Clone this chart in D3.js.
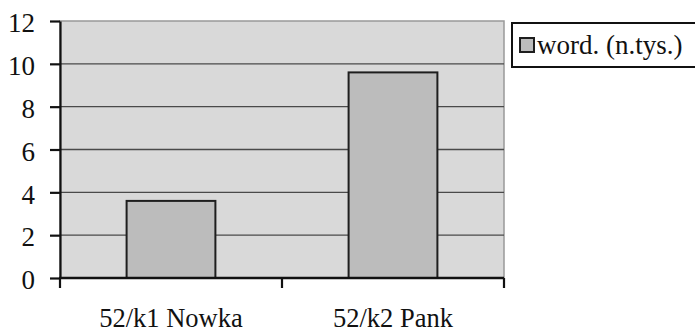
<!DOCTYPE html>
<html>
<head>
<meta charset="utf-8">
<script src="https://cdn.jsdelivr.net/npm/d3@7/dist/d3.min.js"></script>
</head>
<body style="margin:0">
<svg id="chart" width="695" height="332" style="display:block"></svg>
<script>
// Categories, series values and tick labels
const categories = ["52/k1 Nowka", "52/k2 Pank"];
const seriesName = "word. (n.tys.)";
const values = [3.6, 9.6];
const yTicks = [0, 2, 4, 6, 8, 10, 12];

const FONT = "'Times New Roman'";

const svg = d3.select("#chart");
const plot = { left: 60, right: 504, top: 21, bottom: 278 };

const x = d3.scaleBand()
  .domain(categories)
  .range([plot.left, plot.right])
  .paddingInner(0.6)
  .paddingOuter(0.3);

const y = d3.scaleLinear()
  .domain([0, 12])
  .range([plot.bottom, plot.top]);

// plot area background
svg.append("rect")
  .attr("x", plot.left).attr("y", plot.top)
  .attr("width", plot.right - plot.left).attr("height", plot.bottom - plot.top)
  .attr("fill", "#d9d9d9")
  .attr("stroke", "#999").attr("stroke-width", 1.5);

// horizontal gridlines
svg.append("g")
  .selectAll("line")
  .data(yTicks.filter(d => d > 0 && d < 12))
  .join("line")
  .attr("x1", plot.left).attr("x2", plot.right)
  .attr("y1", d => y(d)).attr("y2", d => y(d))
  .attr("stroke", "#4a4a4a").attr("stroke-width", 1.3);

// bars
svg.append("g")
  .selectAll("rect")
  .data(values)
  .join("rect")
  .attr("x", (d, i) => x(categories[i]))
  .attr("y", d => y(d))
  .attr("width", x.bandwidth())
  .attr("height", d => y(0) - y(d))
  .attr("fill", "#bcbcbc")
  .attr("stroke", "#1e1e1e").attr("stroke-width", 2);

// y axis
const yAxis = svg.append("g")
  .attr("transform", `translate(${plot.left},0)`)
  .call(d3.axisLeft(y).tickValues(yTicks).tickSize(10).tickPadding(15).tickSizeOuter(0));
yAxis.attr("font-family", null);
yAxis.select(".domain").attr("stroke", "#111").attr("stroke-width", 2.2);
yAxis.selectAll(".tick line").attr("stroke", "#111").attr("stroke-width", 2.2);
yAxis.selectAll(".tick text")
  .attr("class", "lbl")
  .attr("font-size", 27).attr("fill", "#111").attr("dy", "0.4em");

// x axis with ticks at category boundaries
const step = x.step();
const boundaries = d3.range(categories.length + 1).map(i => plot.left + i * step);
const xAxisG = svg.append("g");
xAxisG.append("line")
  .attr("x1", plot.left - 1).attr("x2", plot.right)
  .attr("y1", y(0)).attr("y2", y(0))
  .attr("stroke", "#111").attr("stroke-width", 2.4);
xAxisG.selectAll("line.tick")
  .data(boundaries)
  .join("line")
  .attr("class", "tick")
  .attr("x1", d => d).attr("x2", d => d)
  .attr("y1", y(0)).attr("y2", y(0) + 10)
  .attr("stroke", "#111").attr("stroke-width", 2.2);
xAxisG.selectAll("text")
  .data(categories)
  .join("text")
  .attr("class", "lbl")
  .attr("x", d => x(d) + x.bandwidth() / 2)
  .attr("y", 327)
  .attr("text-anchor", "middle")
  .attr("font-size", 26.5)
  .attr("fill", "#111")
  .text(d => d);

// legend
const legend = svg.append("g");
legend.append("rect")
  .attr("x", 512).attr("y", 23)
  .attr("width", 200).attr("height", 44)
  .attr("fill", "#fff")
  .attr("stroke", "#111").attr("stroke-width", 2);
legend.append("rect")
  .attr("x", 520).attr("y", 38)
  .attr("width", 14).attr("height", 14)
  .attr("fill", "#bcbcbc")
  .attr("stroke", "#1e1e1e").attr("stroke-width", 2);
legend.append("text")
  .attr("class", "lbl")
  .attr("x", 537).attr("y", 54)
  .attr("font-size", 27)
  .attr("fill", "#111")
  .text(seriesName);

// serif face for every label; re-applied once the font set reports ready
function applyFont() {
  svg.selectAll("text.lbl").style("font-family", FONT);
}
applyFont();
if (document.fonts && document.fonts.ready) {
  document.fonts.ready.then(applyFont);
}
</script>
</body>
</html>
